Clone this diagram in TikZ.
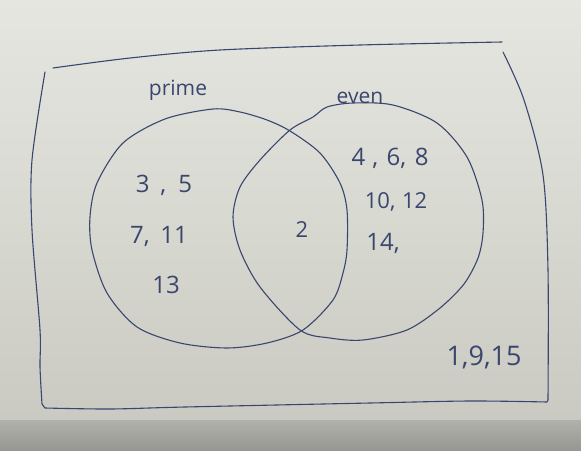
\documentclass[tikz,border=0pt]{standalone}
\usepackage{fontspec}
\setmainfont{Open Sans}
\definecolor{paperTop}{RGB}{230,230,225}
\definecolor{paperMid}{RGB}{216,217,209}
\definecolor{paperLow}{RGB}{202,202,194}
\definecolor{shadeA}{RGB}{178,178,172}
\definecolor{shadeB}{RGB}{150,150,146}
\definecolor{ink}{RGB}{58,70,110}
\tikzset{
  pen/.style={draw=ink, line width=1.1pt, line cap=round, line join=round},
  hand/.style={text=ink, inner sep=0pt, anchor=base},
  numtxt/.style={hand, font=\fontsize{24}{24}\selectfont},
  labtxt/.style={hand, font=\fontsize{21}{21}\selectfont}
}
\begin{document}
\begin{tikzpicture}[x=1pt,y=-1pt]
\useasboundingbox (0,0) rectangle (581,450);
% paper
\shade[top color=paperTop, bottom color=paperLow, middle color=paperMid] (0,0) rectangle (581,420);
\shade[top color=shadeA, bottom color=shadeB] (0,420) rectangle (581,450);
\fill[paperTop, opacity=0.5] (0,0) rectangle (581,28);

% universal set rectangle (hand drawn strokes)
\draw[pen] plot[smooth] coordinates {(53,68) (130,58) (220,50) (360,45) (502,42)};
\draw[pen] plot[smooth] coordinates {(503,52) (524,100) (543,175) (548,270) (548,400)}
  -- plot[smooth] coordinates {(547,402) (470,401) (370,403) (185,407) (110,409) (45,408)}
  -- plot[smooth] coordinates {(42,404) (40,367) (40,330) (32,230) (32,160) (45,72)};

% prime set
\draw[pen] plot[smooth cycle] coordinates {
  (97,183) (123,143) (165,119) (213,109) (240,112) (267,120) (290,131)
  (320,153) (340,183) (347,210) (347,250) (343,273) (333,300) (303,330)
  (267,343) (227,348) (180,343) (137,327) (107,293) (92,250) (90,217)};
% even set
\draw[pen] plot[smooth cycle] coordinates {
  (290,130) (313,117) (327,107) (353,103) (393,105) (437,123) (467,157)
  (482,200) (483,233) (478,258) (464,284) (440,308) (407,330) (363,340) (330,338)
  (300,330) (260,287) (240,250) (233,217) (240,187) (260,160)};

% labels
\node[labtxt] (prime) at (178,95) {prime};
\node[labtxt] (even) at (360,103) {even};

% prime only
\node[numtxt] (p1) at (164,192) {3\hspace{0.45em},\hspace{0.5em}5};
\node[numtxt] (p2) at (159,243) {7,\hspace{0.45em}11};
\node[numtxt] (p3) at (166,293) {13};
% both
\node[hand, font=\fontsize{22}{22}\selectfont] (b1) at (302,237) {2};
% even only
\node[numtxt] (e1) at (390,165) {4\hspace{0.3em},\hspace{0.35em}6,\hspace{0.35em}8};
\node[hand, font=\fontsize{22}{22}\selectfont] (e2) at (396,208) {10,\hspace{0.3em}12};
\node[numtxt] (e3) at (383,250) {14,};
% neither
\node[hand, font=\fontsize{27}{27}\selectfont] (u1) at (484,365) {1,9,15};
\end{tikzpicture}
\end{document}
